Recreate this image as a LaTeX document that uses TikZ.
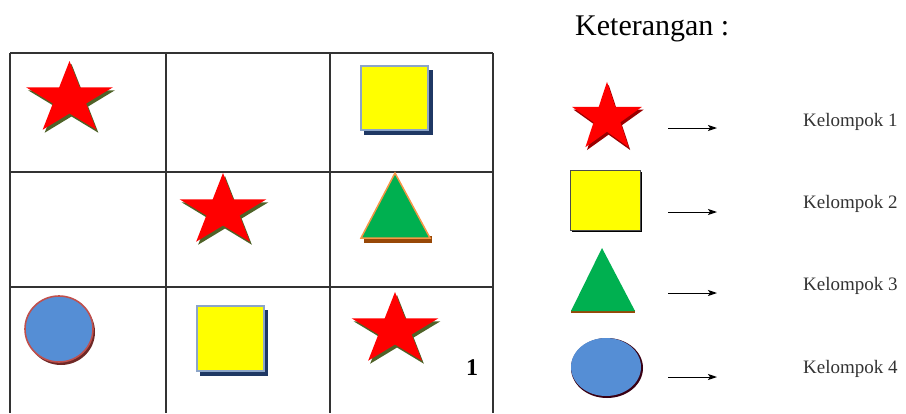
\documentclass[tikz,border=0pt]{standalone}
\usepackage{fontspec}
\setmainfont{Liberation Serif}
\usetikzlibrary{arrows.meta}

\definecolor{starred}{RGB}{255,0,0}
\definecolor{starshade}{RGB}{79,98,40}
\definecolor{boxyellow}{RGB}{255,255,0}
\definecolor{boxshade}{RGB}{31,56,100}
\definecolor{boxedge}{RGB}{140,165,200}
\definecolor{trigreen}{RGB}{0,176,80}
\definecolor{triedge}{RGB}{247,150,70}
\definecolor{trishade}{RGB}{152,72,7}
\definecolor{dotblue}{RGB}{85,142,213}
\definecolor{dotedge}{RGB}{192,80,77}
\definecolor{dotshade}{RGB}{110,40,38}

\begin{document}
\begin{tikzpicture}[
    x=1pt, y=-1pt,
    >={Stealth[length=9pt,width=6pt,inset=2pt]},
    grid line/.style={line width=1.2pt, black!80},
    box face/.style={fill=boxyellow, draw=boxedge, line width=1.5pt},
    tri face/.style={fill=trigreen, draw=triedge, line width=1.5pt, line join=miter},
    dot face/.style={fill=dotblue, draw=dotedge, line width=1.6pt},
    key arrow/.style={line width=1pt},
    key text/.style={font=\fontsize{19}{19}\selectfont, text=black!80, anchor=west, inner sep=0pt},
    star mark/.pic={
        \fill[#1, shift={(2,3)}] (-90:45.7 and 38)
            \foreach \a in {0,72,...,288} {-- ({\a-54}:17.5 and 14.5) -- ({\a-18}:45.7 and 38)} -- cycle;
        \fill[starred] (-90:45.7 and 38)
            \foreach \a in {0,72,...,288} {-- ({\a-54}:17.5 and 14.5) -- ({\a-18}:45.7 and 38)} -- cycle;
    }
]
\useasboundingbox (0,0) rectangle (906,413);

% Grid
\foreach \gx in {10,166,330,493}
    \draw[grid line] (\gx,53) -- (\gx,413);
\foreach \gy in {53,172,287}
    \draw[grid line] (10,\gy) -- (493,\gy);

% Stars
\pic at (69.5,99) {star mark=starshade};
\pic at (223,211) {star mark=starshade};
\pic at (395,330) {star mark=starshade};

% Squares
\fill[boxshade] (364,70) rectangle (433,135);
\draw[box face] (361,66) rectangle (428,130);
\fill[boxshade] (200,310) rectangle (268,376);
\draw[box face] (197,306) rectangle (264,371);

% Triangle
\fill[trishade] (364,236) rectangle (432,243);
\draw[tri face] (395,173) -- (430,238) -- (361,238) -- cycle;

% Circle
\fill[dotshade] (61,332) ellipse [x radius=34, y radius=33];
\draw[dot face] (59,329) ellipse [x radius=34, y radius=33];

\node[font=\bfseries\fontsize{24}{24}\selectfont, inner sep=0pt] (nomor) at (472,368) {1};

% Legend
\node[font=\fontsize{30}{30}\selectfont, anchor=base west, inner sep=0pt] (judul) at (575,35) {Keterangan :};

\pic[xscale=0.805, yscale=0.95] at (607,118) {star mark=starred!60!black};

\fill[black] (572,172) rectangle (642,232);
\draw[fill=boxyellow, draw=black!70, line width=0.8pt] (570,170) rectangle (640,230);

\fill[trishade] (571,310) rectangle (635,313);
\fill[trigreen] (602,248) -- (635,311) -- (571,311) -- cycle;

\fill[black!70!purple] (607,368) ellipse [x radius=36, y radius=30];
\fill[dotblue] (606,367) ellipse [x radius=35, y radius=29];

\foreach \i/\gy/\ty in {1/128/122, 2/212/204, 3/293/286, 4/377/369} {
    \coordinate (a\i) at (668,\gy);
    \coordinate (b\i) at (717,\gy);
    \draw[key arrow, ->] (a\i) -- (b\i);
    \node[key text] (k\i) at (803,\ty) {Kelompok \i};
}

\end{tikzpicture}
\end{document}
